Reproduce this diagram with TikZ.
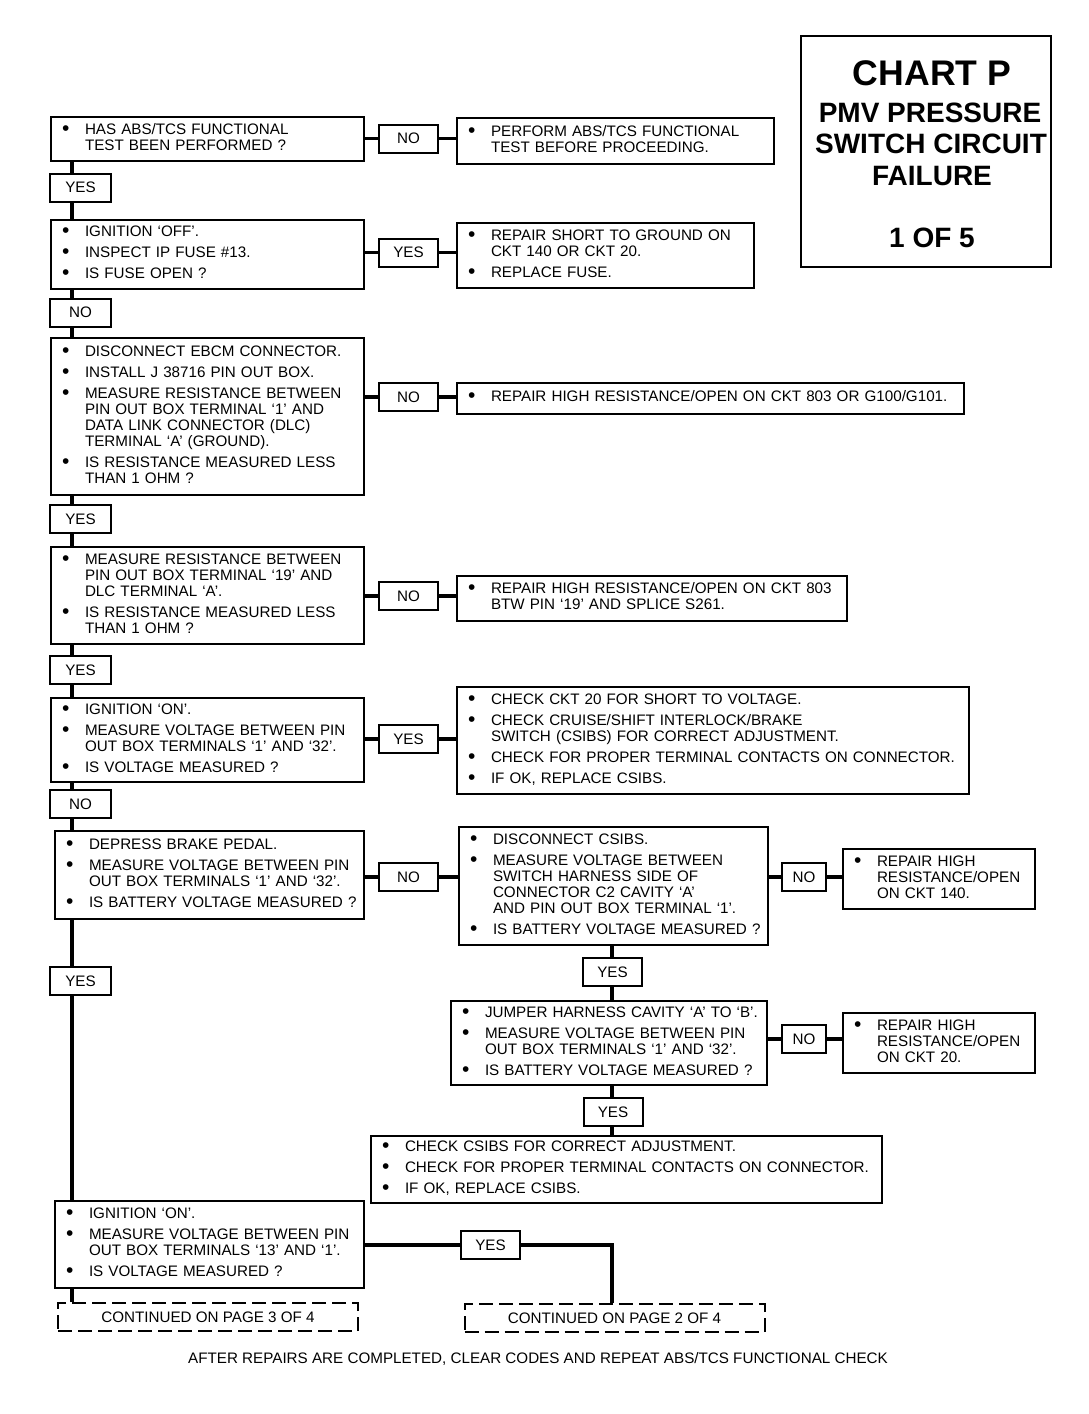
\documentclass[tikz,border=0pt]{standalone}
\usepackage{fontspec}
\setmainfont{Liberation Sans}
\newcommand{\boxfont}{\fontsize{7.6}{8}\selectfont}
\newcommand{\bu}{\hspace*{-0.5pt}\raisebox{-0.4pt}{\fontsize{10.5}{8}\selectfont\textbullet}}
\newcommand{\nb}{\\[2.5pt]}
\newcommand{\chartlist}[1]{\begin{tabular}{@{}p{11pt}@{}l@{}}#1\end{tabular}}
\tikzset{
	box/.style={draw, fill=white, line width=1pt, anchor=north west, align=left, inner xsep=6pt, inner ysep=0pt, font=\boxfont},
	tag/.style={draw, fill=white, line width=1pt, minimum width=29.5pt, minimum height=14pt, inner sep=0pt, font=\boxfont},
	conn/.style={line width=1.6pt},
	contbox/.style={draw, dash pattern=on 7pt off 3pt, line width=1pt, minimum width=150pt, minimum height=14pt, inner sep=0pt, font=\boxfont},
	titletext/.style={inner sep=0pt, font=\bfseries\fontsize{14}{16}\selectfont}
}
\begin{document}
\begin{tikzpicture}[x=0.5pt, y=-0.5pt]
		\useasboundingbox[fill=white] (0,0) rectangle (1088,1414);
		% title
		\node[draw, line width=1pt, minimum width=125pt, minimum height=115.5pt, inner sep=0pt] (chart) at (926,151.5) {};
		\node[inner sep=0pt, font=\bfseries\fontsize{17.8}{20}\selectfont] (t1) at (932,73) {CHART P};
		\node[titletext] (t2) at (930,113) {PMV PRESSURE};
		\node[titletext] (t3) at (931,144) {SWITCH CIRCUIT};
		\node[titletext] (t4) at (932,176) {FAILURE};
		\node[titletext] (t5) at (932,238) {1 OF 5};
		% left column
		\node[box, text width=144.5pt, minimum height=22pt] (q1) at (50,116) {\chartlist{\bu & HAS ABS/TCS FUNCTIONAL\\ & TEST BEEN PERFORMED ?}};
		\node[box, text width=144.5pt, minimum height=34.5pt] (q2) at (50,219) {\chartlist{\bu & IGNITION `OFF'.\nb \bu & INSPECT IP FUSE \#13.\nb \bu & IS FUSE OPEN ?}};
		\node[box, text width=144.5pt, minimum height=78.5pt] (q3) at (50,337) {\chartlist{\bu & DISCONNECT EBCM CONNECTOR.\nb \bu & INSTALL J 38716 PIN OUT BOX.\nb \bu & MEASURE RESISTANCE BETWEEN\\ & PIN OUT BOX TERMINAL `1' AND\\ & DATA LINK CONNECTOR (DLC)\\ & TERMINAL `A' (GROUND).\nb \bu & IS RESISTANCE MEASURED LESS\\ & THAN 1 OHM ?}};
		\node[box, text width=144.5pt, minimum height=48.5pt] (q4) at (50,546) {\chartlist{\bu & MEASURE RESISTANCE BETWEEN\\ & PIN OUT BOX TERMINAL `19' AND\\ & DLC TERMINAL `A'.\nb \bu & IS RESISTANCE MEASURED LESS\\ & THAN 1 OHM ?}};
		\node[box, text width=144.5pt, minimum height=42pt] (q5) at (50,697) {\chartlist{\bu & IGNITION `ON'.\nb \bu & MEASURE VOLTAGE BETWEEN PIN\\ & OUT BOX TERMINALS `1' AND `32'.\nb \bu & IS VOLTAGE MEASURED ?}};
		\node[box, text width=142.5pt, minimum height=44pt] (q6) at (54,830) {\chartlist{\bu & DEPRESS BRAKE PEDAL.\nb \bu & MEASURE VOLTAGE BETWEEN PIN\\ & OUT BOX TERMINALS `1' AND `32'.\nb \bu & IS BATTERY VOLTAGE MEASURED ?}};
		\node[box, text width=142.5pt, minimum height=43.5pt] (q9) at (54,1200) {\chartlist{\bu & IGNITION `ON'.\nb \bu & MEASURE VOLTAGE BETWEEN PIN\\ & OUT BOX TERMINALS `13' AND `1'.\nb \bu & IS VOLTAGE MEASURED ?}};
		% right column
		\node[box, text width=146.5pt, minimum height=23pt] (r1) at (456,117) {\chartlist{\bu & PERFORM ABS/TCS FUNCTIONAL\\ & TEST BEFORE PROCEEDING.}};
		\node[box, text width=136.5pt, minimum height=32.5pt] (r2) at (456,222) {\chartlist{\bu & REPAIR SHORT TO GROUND ON\\ & CKT 140 OR CKT 20.\nb \bu & REPLACE FUSE.}};
		\node[box, text width=241.5pt, minimum height=15.5pt] (r3) at (456,382) {\chartlist{\bu & REPAIR HIGH RESISTANCE/OPEN ON CKT 803 OR G100/G101.}};
		\node[box, text width=183pt, minimum height=22.5pt] (r4) at (456,575) {\chartlist{\bu & REPAIR HIGH RESISTANCE/OPEN ON CKT 803\\ & BTW PIN `19' AND SPLICE S261.}};
		\node[box, text width=244pt, minimum height=53.5pt] (r5) at (456,686) {\chartlist{\bu & CHECK CKT 20 FOR SHORT TO VOLTAGE.\nb \bu & CHECK CRUISE/SHIFT INTERLOCK/BRAKE\\ & SWITCH (CSIBS) FOR CORRECT ADJUSTMENT.\nb \bu & CHECK FOR PROPER TERMINAL CONTACTS ON CONNECTOR.\nb \bu & IF OK, REPLACE CSIBS.}};
		\node[box, text width=142.5pt, minimum height=59pt] (r6) at (458,826) {\chartlist{\bu & DISCONNECT CSIBS.\nb \bu & MEASURE VOLTAGE BETWEEN\\ & SWITCH HARNESS SIDE OF\\ & CONNECTOR C2 CAVITY `A'\\ & AND PIN OUT BOX TERMINAL `1'.\nb \bu & IS BATTERY VOLTAGE MEASURED ?}};
		\node[box, text width=84pt, minimum height=30pt] (r7) at (842,848) {\chartlist{\bu & REPAIR HIGH\\ & RESISTANCE/OPEN\\ & ON CKT 140.}};
		\node[box, text width=146pt, minimum height=42pt] (q8) at (450,1000) {\chartlist{\bu & JUMPER HARNESS CAVITY `A' TO `B'.\nb \bu & MEASURE VOLTAGE BETWEEN PIN\\ & OUT BOX TERMINALS `1' AND `32'.\nb \bu & IS BATTERY VOLTAGE MEASURED ?}};
		\node[box, text width=84pt, minimum height=30pt] (r8) at (842,1012) {\chartlist{\bu & REPAIR HIGH\\ & RESISTANCE/OPEN\\ & ON CKT 20.}};
		\node[box, text width=243.5pt, minimum height=33.5pt] (r9) at (370,1135) {\chartlist{\bu & CHECK CSIBS FOR CORRECT ADJUSTMENT.\nb \bu & CHECK FOR PROPER TERMINAL CONTACTS ON CONNECTOR.\nb \bu & IF OK, REPLACE CSIBS.}};
		% yes / no tags
		\node[tag, minimum width=30.5pt] (yes1) at (80.5,187.5) {YES};
		\node[tag, minimum width=30.5pt] (no2) at (80.5,312.5) {NO};
		\node[tag, minimum width=30.5pt] (yes3) at (80.5,519) {YES};
		\node[tag, minimum width=30.5pt] (yes4) at (80.5,670) {YES};
		\node[tag, minimum width=30.5pt] (no5) at (80.5,804) {NO};
		\node[tag, minimum width=30.5pt] (yes6) at (80.5,981) {YES};
		\node[tag] (no1) at (408.5,138.5) {NO};
		\node[tag] (yes2) at (408.5,252.5) {YES};
		\node[tag] (no3) at (408.5,397) {NO};
		\node[tag] (no4) at (408.5,596) {NO};
		\node[tag] (yes5) at (408.5,739) {YES};
		\node[tag] (no6) at (408.5,877) {NO};
		\node[tag, minimum width=22pt] (no7) at (804,877) {NO};
		\node[tag] (yes7) at (612.5,972) {YES};
		\node[tag, minimum width=22pt] (no8) at (804,1039) {NO};
		\node[tag] (yes8) at (613,1112) {YES};
		\node[tag] (yes9) at (490.5,1245) {YES};
		% continued
		\node[contbox] (cont3) at (208,1317) {CONTINUED ON PAGE 3 OF 4};
		\node[contbox] (cont2) at (614.5,1318) {CONTINUED ON PAGE 2 OF 4};
		\node[inner sep=0pt, font=\boxfont] (foot) at (538,1359) {AFTER REPAIRS ARE COMPLETED, CLEAR CODES AND REPEAT ABS/TCS FUNCTIONAL CHECK};
		% connectors
		\coordinate (spine) at (72,0);
		\coordinate (rspine) at (612,0);
		\foreach \a/\b in {q1/yes1, yes1/q2, q2/no2, no2/q3, q3/yes3, yes3/q4, q4/yes4, yes4/q5, q5/no5, no5/q6, q6/yes6, yes6/q9, q9/cont3}
		{
			\draw[conn] (\a.south -| spine) -- (\b.north -| spine);
		}
		\foreach \a/\b in {r6/yes7, yes7/q8, q8/yes8, yes8/r9}
		{
			\draw[conn] (\a.south -| rspine) -- (\b.north -| rspine);
		}
		\foreach \a/\b/\c in {q1/no1/r1, q2/yes2/r2, q3/no3/r3, q4/no4/r4, q5/yes5/r5, q6/no6/r6, r6/no7/r7, q8/no8/r8}
		{
			\draw[conn] (\a.east |- \b.west) -- (\b.west) (\b.east) -- (\c.west |- \b.east);
		}
		\draw[conn] (q9.east |- yes9.west) -- (yes9.west) (yes9.east) -| (cont2.north -| rspine);
	\end{tikzpicture}
\end{document}
